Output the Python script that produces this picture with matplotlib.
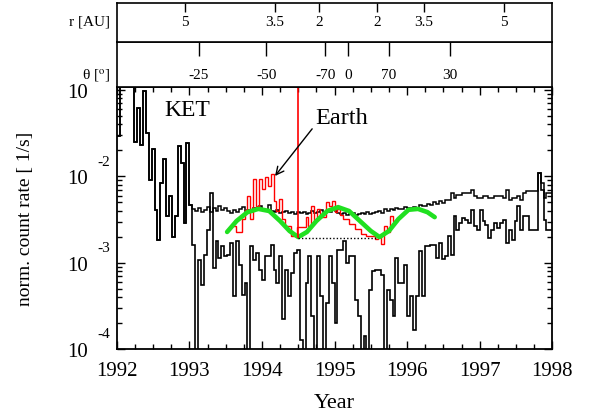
import numpy as np
import matplotlib.pyplot as plt
from matplotlib.ticker import MultipleLocator, LogLocator, NullFormatter

plt.rcParams['font.family'] = ['Liberation Serif', 'DejaVu Serif']
plt.rcParams['mathtext.fontset'] = 'stix'

# count rates in units of 1e-3 [1/s], bins of 0.04 yr starting 1992.0
t_start = 1992.0
bin_width = 0.04

rate_early = [29, 150, 150, 150, 150, 110, 25, 62, 23, 98, 32, 9.1, 21, 4.1, 1.83,
              8.4, 16, 3.5, 6.0, 2.0, 3.5, 22.5, 14.3, 2.9, 24.4]

rate_upper = [4.7, 4.2, 4.0, 4.3, 3.9, 4.1, 4.4, 3.9, 4.3, 4.0, 4.5, 4.1, 4.3,
              4.0, 3.8, 4.1, 3.9, 4.2, 4.4, 4.0, 4.1, 3.9, 4.3, 4.2, 4.5, 4.1,
              4.0, 4.7, 4.0, 3.9, 4.1, 3.8, 3.9, 4.0, 3.8, 3.9, 3.7, 3.9,
              3.8, 3.9, 3.7, 3.8, 4.0, 3.8, 3.9, 4.1, 3.9, 4.0, 3.9, 4.2, 4.0,
              3.8, 3.7, 3.8, 3.6, 3.7, 3.8, 3.6, 3.7, 3.8, 3.7, 3.9, 3.7, 3.8,
              3.9, 4.0, 3.8, 4.2, 4.0, 4.2, 4.1, 4.3, 4.2, 4.2, 4.4, 4.3,
              4.3, 4.4, 4.2, 4.6, 4.5, 4.5, 4.8, 4.7, 5.0, 4.8, 5.2, 4.9,
              5.3, 5.3, 6.4, 5.6, 6.1, 6.1, 6.4, 6.4, 6.4, 6.95, 5.9, 5.6, 5.6,
              5.9, 5.9, 5.6, 5.6, 5.9, 5.9, 5.9, 5.6, 6.95, 5.3, 5.6, 5.6, 5.9,
              5.3, 6.4, 6.8, 6.8, 6.8, 6.8, 10.9, 8.4, 5.6, 6.4, 6.4]

rate_lower = [4.7, 1.6, 0.05, 1.07, 0.55, 1.23, 2.4, 6.4, 0.87, 1.78, 1.13, 1.56, 1.2,
              1.23, 1.7, 0.41, 1.78, 0.94, 0.42, 0.58, 0.05, 1.56, 1.07, 1.29, 0.82,
              0.63, 1.2, 1.2, 1.6, 0.82, 0.58, 1.2, 0.22, 0.82, 0.41, 0.76, 1.29,
              1.4, 0.127, 0.05, 0.58, 1.2, 0.24, 0.05, 1.2, 0.41, 0.05, 0.34, 1.2,
              0.58, 0.2, 1.4, 1.4, 1.78, 0.99, 1.2, 1.2, 0.37, 0.24, 0.05, 0.14,
              0.05, 0.48, 0.8, 0.82, 0.82, 0.72, 0.05, 0.48, 0.37, 0.24, 1.13, 0.58,
              0.58, 0.94, 0.24, 0.41, 0.166, 0.41, 1.37, 0.41, 1.56, 1.56, 1.6, 1.6,
              1.13, 1.7, 1.1,
              1.2, 2.04, 1.23, 3.5, 2.4, 2.9, 3.3, 3.1, 2.9, 4.1, 2.66, 2.4, 4.1,
              3.04, 2.73, 1.93, 2.4, 2.9, 2.53, 2.9, 3.1, 1.7, 2.4, 1.83, 3.04,
              4.54, 2.4, 3.5, 3.5, 2.4, 2.4, 2.4, 10.9, 6.95, 3.1, 2.4, 2.4]

# Earth-normalised rate (red), bins 40..96
earth_first_bin = 40
rate_earth = [2.66, 2.27, 2.27, 3.2, 4.1, 5.9, 3.2, 9.3, 4.5, 9.3, 7.1, 9.8, 7.7,
              10.6, 5.2, 4.0, 5.5, 3.2, 2.66, 2.66, 2.04, 2.04, 2.6, 2.6, 2.6, 3.4,
              2.66, 4.5, 3.04, 4.2, 3.4, 3.4, 5.1, 4.5, 5.2, 3.9, 4.2, 3.6, 3.2,
              3.2, 2.8, 2.8, 2.45, 2.45, 2.15, 2.15, 2.04, 2.04, 2.04, 1.88, 2.04,
              1.64, 2.66, 2.27, 3.5, 3.04, 3.04]

# latitude fit (green)
fit_years = [1993.52, 1993.65, 1993.80, 1993.95, 1994.10, 1994.25, 1994.38, 1994.50,
             1994.62, 1994.75, 1994.90, 1995.05, 1995.20, 1995.35, 1995.50, 1995.62,
             1995.75, 1995.88, 1996.02, 1996.15, 1996.28, 1996.38]
fit_rate = [2.27, 3.04, 3.85, 4.2, 3.97, 3.04, 2.33, 1.98, 2.27, 3.04, 3.97, 4.4,
            3.97, 3.04, 2.33, 1.98, 2.33, 3.2, 4.1, 4.2, 3.85, 3.37]

earth_year = 1994.5
base_level = 1.93
base_end = 1995.57

r_years = [1992.94, 1994.18, 1994.79, 1995.59, 1996.23, 1997.34]
r_labels = ['5', '3.5', '2', '2', '3.5', '5']
theta_years = [1993.13, 1994.06, 1994.87, 1995.19, 1995.75, 1996.59]
theta_labels = ['-25', '-50', '-70', '0', '70', '30']

upper = np.array(rate_early + rate_upper) * 1e-3
lower = np.array(rate_early + rate_lower) * 1e-3
earth = np.array(rate_earth) * 1e-3
edges = t_start + bin_width * np.arange(len(upper) + 1)
earth_edges = edges[earth_first_bin:earth_first_bin + len(earth) + 1]

fig = plt.figure(figsize=(5.9, 4.14), dpi=100)
left, width = 0.198, 0.738
ax = fig.add_axes([left, 0.1546, width, 0.633])

ax.stairs(lower, edges, baseline=None, color='black', lw=1.2)
ax.stairs(upper, edges, baseline=None, color='black', lw=1.1)
ax.stairs(earth, earth_edges, baseline=None, color='red', lw=1.0)
ax.plot(fit_years, np.array(fit_rate) * 1e-3, color='#20e020', lw=3.3,
        solid_capstyle='round')
ax.vlines(earth_year, base_level * 1e-3, 1, color='red', lw=1.2)
ax.hlines(base_level * 1e-3, earth_year, base_end, color='black', lw=1.0,
          linestyles=(0, (1, 1.5)))

ax.set_yscale('log')
ax.set_xlim(1992, 1998)
ax.set_ylim(1e-4, 0.1087)

ax.xaxis.set_major_locator(MultipleLocator(1))
ax.xaxis.set_minor_locator(MultipleLocator(0.25))
ax.yaxis.set_major_locator(LogLocator(base=10, numticks=10))
ax.yaxis.set_minor_locator(LogLocator(base=10, subs=np.arange(2, 10), numticks=10))
ax.yaxis.set_minor_formatter(NullFormatter())
ax.set_yticks([1e-4, 1e-3, 1e-2, 1e-1], labels=['10'] * 4)
# exponent of the top label is hidden behind the orbit panel
for exp, val in zip(['-4', '-3', '-2'], [1e-4, 1e-3, 1e-2]):
    ax.annotate(exp, xy=(0, val), xycoords=('axes fraction', 'data'),
                xytext=(-5, 11), textcoords='offset points', ha='right',
                va='center', fontsize=11)

ax.tick_params(which='both', direction='in', top=True, right=True, width=1)
ax.tick_params(which='major', length=6)
ax.tick_params(which='minor', length=3.5)
ax.tick_params(axis='x', labelsize=15, pad=9)
ax.tick_params(axis='y', labelsize=15, pad=21)
for s in ax.spines.values():
    s.set_linewidth(1.3)

ax.set_xlabel('Year', fontsize=16, va='top')
ax.xaxis.set_label_coords(0.5, -0.168)
ax.set_ylabel('norm. count rate [ 1/s]', fontsize=14)
ax.yaxis.set_label_coords(-0.19, 0.5)

ax.text(0.11, 0.912, 'KET', transform=ax.transAxes, fontsize=17, va='center')
ax.annotate('Earth', xy=(1994.18, 10.1e-3), xytext=(1994.73, 47.5e-3),
            fontsize=17.5, ha='left', va='center',
            arrowprops=dict(arrowstyle='->', color='black', lw=1,
                            shrinkA=0, shrinkB=0, relpos=(0.0, 0.15),
                            mutation_scale=14))

# orbit panels
ax_t = fig.add_axes([left, 0.787, width, 0.109])
ax_r = fig.add_axes([left, 0.896, width, 0.094])
for a, yrs, labs, tlen, ly, name in [(ax_r, r_years, r_labels, 6.5, 0.54, 'r [AU]'),
                                     (ax_t, theta_years, theta_labels, 10, 0.27,
                                      r'θ [$^{\rm o}$]')]:
    a.set_xlim(1992, 1998)
    a.set_yticks([])
    a.xaxis.tick_top()
    a.set_xticks(yrs)
    a.tick_params(axis='x', direction='in', length=tlen, width=1, labeltop=False)
    for s in a.spines.values():
        s.set_linewidth(1.2)
    for x, lab in zip(yrs, labs):
        a.text(x, ly, lab, transform=a.get_xaxis_transform(), ha='center',
               va='center', fontsize=11)
    a.text(-0.016, ly, name, transform=a.transAxes, ha='right', va='center',
           fontsize=11)

fig.savefig('out.png', dpi=100)
